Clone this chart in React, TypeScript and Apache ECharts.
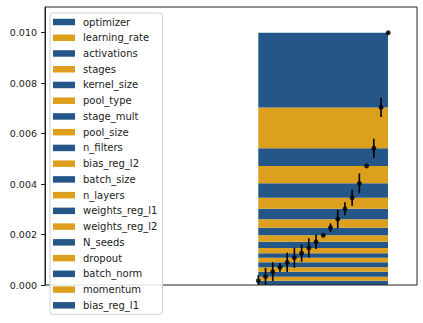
import React, { useEffect, useRef } from 'react';
import * as echarts from 'echarts';

// legend order (top segment first)
const names = [
  'optimizer', 'learning_rate', 'activations', 'stages', 'kernel_size', 'pool_type',
  'stage_mult', 'pool_size', 'n_filters', 'bias_reg_l2', 'batch_size', 'n_layers',
  'weights_reg_l1', 'weights_reg_l2', 'N_seeds', 'dropout', 'batch_norm', 'momentum', 'bias_reg_l1',
];
const importance = [
  0.00296, 0.00162, 0.00070, 0.00069, 0.00057, 0.00044,
  0.00041, 0.00034, 0.00030, 0.00026, 0.00024, 0.00021,
  0.00018, 0.00018, 0.00020, 0.00017, 0.00020, 0.00016, 0.00017,
];
const errors = [
  0.00003, 0.00038, 0.00038, 0.00000, 0.00039, 0.00032,
  0.00026, 0.00037, 0.00017, 0.00005, 0.00028, 0.00038,
  0.00034, 0.00040, 0.00038, 0.00017, 0.00037, 0.00035, 0.00022,
];
const yTicks = [0, 0.002, 0.004, 0.006, 0.008, 0.01];
const barCategory = ['importance'];

const BLUE = '#245787';
const ORANGE = '#DDA01E';
const Y_MAX = 0.01102;

export default function App() {
  const ref = useRef<HTMLDivElement>(null);
  useEffect(() => {
    const chart = echarts.init(ref.current!, null, { renderer: 'svg' });
    const n = names.length;
    const cum: number[] = [];
    let s = 0;
    for (let k = n - 1; k >= 0; k--) {
      s += importance[k];
      cum[k] = s;
    }
    const barSeries: any[] = [];
    for (let k = n - 1; k >= 0; k--) {
      barSeries.push({
        type: 'bar',
        name: names[k],
        stack: 'imp',
        xAxisIndex: 1,
        yAxisIndex: 1,
        data: [importance[k]],
        barWidth: '100%',
        itemStyle: { color: k % 2 === 0 ? BLUE : ORANGE },
        z: 2,
      });
    }
    const pts = names.map((_, k) => [n - 1 - k, cum[k], errors[k]]);
    chart.setOption({
      animation: false,
      grid: [
        {
          left: 45, top: 7, right: 6, bottom: 38,
          show: true, borderColor: '#222', borderWidth: 1, backgroundColor: 'transparent',
          z: 8,
        },
        { left: 258.3, top: 7, width: 129.7, bottom: 38 },
      ],
      xAxis: [
        { type: 'value', min: -29.54, max: 21.98, show: false, gridIndex: 0 },
        { type: 'category', data: barCategory, show: false, gridIndex: 1, boundaryGap: true },
      ],
      yAxis: [
        {
          type: 'value', min: 0, max: Y_MAX, gridIndex: 0,
          splitLine: { show: false },
          axisLine: { show: true, onZero: false, lineStyle: { color: '#222', width: 1 } },
          axisTick: { show: true, length: 4, lineStyle: { color: '#222' }, customValues: yTicks },
          axisLabel: {
            customValues: yTicks,
            fontSize: 9.5, fontFamily: 'DejaVu Sans', color: '#222', margin: 8,
            formatter: (v: number) => v.toFixed(3),
          },
        },
        { type: 'value', min: 0, max: Y_MAX, gridIndex: 1, show: false },
      ],
      legend: {
        data: names,
        orient: 'vertical',
        left: 50, top: 13,
        padding: [3, 5, 3, 3],
        itemWidth: 22, itemHeight: 6.5,
        itemGap: 3.74,
        icon: 'rect',
        selectedMode: false,
        backgroundColor: 'rgba(255,255,255,0.85)',
        borderColor: '#d0d0d0', borderWidth: 1, borderRadius: 3,
        z: 10,
        textStyle: {
          fontSize: 10, fontFamily: 'DejaVu Sans', color: '#222', lineHeight: 12,
          padding: [0, 0, 0, 3],
        },
      },
      series: [
        ...barSeries,
        {
          type: 'custom',
          clip: true,
          z: 5,
          data: pts,
          encode: { x: 0, y: 1 },
          renderItem: (_p: any, api: any) => {
            const x = api.value(0), y = api.value(1), e = api.value(2);
            const a = api.coord([x, y - e]);
            const b = api.coord([x, y + e]);
            return {
              type: 'line',
              shape: { x1: a[0], y1: a[1], x2: b[0], y2: b[1] },
              style: { stroke: '#000', lineWidth: 1.6 },
            };
          },
        },
        {
          type: 'scatter',
          data: pts.map((p) => [p[0], p[1]]),
          symbolSize: 5,
          itemStyle: { color: '#000' },
          z: 6,
        },
      ],
    });
    return () => chart.dispose();
  }, []);
  return <div ref={ref} style={{ position: 'absolute', left: 0, top: 0, width: 423, height: 323 }} />;
}
